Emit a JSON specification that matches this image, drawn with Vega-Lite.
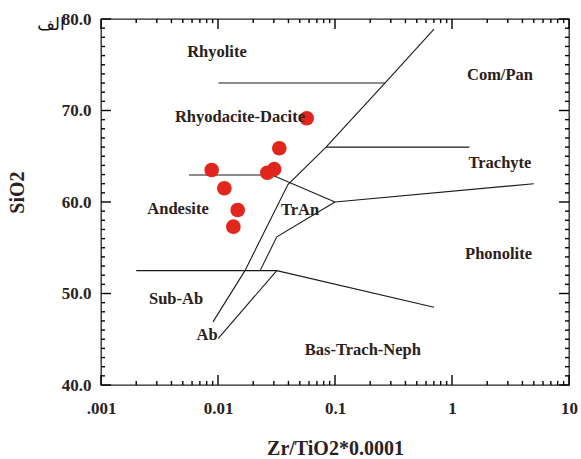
{
  "$schema": "https://vega.github.io/schema/vega-lite/v6.json",
  "width": 468,
  "height": 366,
  "autosize": "none",
  "padding": {"left": 101, "top": 19, "right": 12, "bottom": 74},
  "background": "white",
  "config": {
    "view": {"stroke": "#222", "strokeWidth": 1.3},
    "axis": {"grid": false, "domain": false, "ticks": false, "labelFont": "Liberation Serif", "labelFontWeight": "bold", "labelFontSize": 17, "labelColor": "#2a2222", "titleFont": "Liberation Serif", "titleFontWeight": "bold", "titleFontSize": 20, "titleColor": "#2a2222", "labelOverlap": false, "labelFlush": false}
  },
  "datasets": {
    "lines": [
      {"seg": "a", "o": 1, "x": 0.0101, "y": 73},
      {"seg": "a", "o": 2, "x": 0.267, "y": 73},
      {"seg": "b", "o": 1, "x": 0.00906, "y": 46.9},
      {"seg": "b", "o": 2, "x": 0.017, "y": 52.5},
      {"seg": "b", "o": 3, "x": 0.0396, "y": 61.9},
      {"seg": "b", "o": 4, "x": 0.0838, "y": 66},
      {"seg": "b", "o": 5, "x": 0.267, "y": 73},
      {"seg": "b", "o": 6, "x": 0.702, "y": 78.9},
      {"seg": "c", "o": 1, "x": 0.0838, "y": 66},
      {"seg": "c", "o": 2, "x": 1.41, "y": 66},
      {"seg": "d", "o": 1, "x": 0.00565, "y": 62.95},
      {"seg": "d", "o": 2, "x": 0.029, "y": 62.95},
      {"seg": "d", "o": 3, "x": 0.1, "y": 60},
      {"seg": "e", "o": 1, "x": 0.1, "y": 60},
      {"seg": "e", "o": 2, "x": 5.0, "y": 62},
      {"seg": "f", "o": 1, "x": 0.1, "y": 60},
      {"seg": "f", "o": 2, "x": 0.0318, "y": 56.2},
      {"seg": "f", "o": 3, "x": 0.0229, "y": 52.5},
      {"seg": "g", "o": 1, "x": 0.002, "y": 52.5},
      {"seg": "g", "o": 2, "x": 0.0318, "y": 52.5},
      {"seg": "g", "o": 3, "x": 0.702, "y": 48.5},
      {"seg": "h", "o": 1, "x": 0.0318, "y": 52.5},
      {"seg": "h", "o": 2, "x": 0.01006, "y": 45.1}
    ],
    "dots": [
      {"x": 0.0573, "y": 69.15},
      {"x": 0.0334, "y": 65.87},
      {"x": 0.00883, "y": 63.5},
      {"x": 0.0264, "y": 63.2},
      {"x": 0.0302, "y": 63.6},
      {"x": 0.01133, "y": 61.5},
      {"x": 0.01473, "y": 59.13},
      {"x": 0.01353, "y": 57.3}
    ],
    "labels": [
      {"t": "Rhyolite", "x": 0.0098, "y": 76.4},
      {"t": "Com/Pan", "x": 2.57, "y": 73.9},
      {"t": "Rhyodacite-Dacite", "x": 0.0154, "y": 69.3},
      {"t": "Trachyte", "x": 2.57, "y": 64.26},
      {"t": "Andesite", "x": 0.00455, "y": 59.2},
      {"t": "TrAn", "x": 0.0502, "y": 59.1},
      {"t": "Phonolite", "x": 2.5, "y": 54.3},
      {"t": "Sub-Ab", "x": 0.00438, "y": 49.4},
      {"t": "Ab", "x": 0.00806, "y": 45.5},
      {"t": "Bas-Trach-Neph", "x": 0.173, "y": 43.8}
    ],
    "corner": [
      {"t": "الف", "x": 0.000374, "y": 79.3}
    ],
    "xticks": [
      {"v": 0.001}, {"v": 0.002}, {"v": 0.003}, {"v": 0.004}, {"v": 0.005}, {"v": 0.006}, {"v": 0.007}, {"v": 0.008}, {"v": 0.009},
      {"v": 0.01}, {"v": 0.02}, {"v": 0.03}, {"v": 0.04}, {"v": 0.05}, {"v": 0.06}, {"v": 0.07}, {"v": 0.08}, {"v": 0.09},
      {"v": 0.1}, {"v": 0.2}, {"v": 0.3}, {"v": 0.4}, {"v": 0.5}, {"v": 0.6}, {"v": 0.7}, {"v": 0.8}, {"v": 0.9},
      {"v": 1}, {"v": 2}, {"v": 3}, {"v": 4}, {"v": 5}, {"v": 6}, {"v": 7}, {"v": 8}, {"v": 9}, {"v": 10}
    ],
    "yticks": [
      {"v": 40}, {"v": 41}, {"v": 42}, {"v": 43}, {"v": 44}, {"v": 45}, {"v": 46}, {"v": 47}, {"v": 48}, {"v": 49},
      {"v": 50}, {"v": 51}, {"v": 52}, {"v": 53}, {"v": 54}, {"v": 55}, {"v": 56}, {"v": 57}, {"v": 58}, {"v": 59},
      {"v": 60}, {"v": 61}, {"v": 62}, {"v": 63}, {"v": 64}, {"v": 65}, {"v": 66}, {"v": 67}, {"v": 68}, {"v": 69},
      {"v": 70}, {"v": 71}, {"v": 72}, {"v": 73}, {"v": 74}, {"v": 75}, {"v": 76}, {"v": 77}, {"v": 78}, {"v": 79}, {"v": 80}
    ]
  },
  "resolve": {"axis": {"x": "independent", "y": "independent"}},
  "layer": [
    {
      "data": {"name": "lines"},
      "mark": {"type": "line", "stroke": "#1a1a1a", "strokeWidth": 1.1, "clip": true},
      "encoding": {
        "x": {"field": "x", "type": "quantitative",
          "scale": {"type": "log", "domain": [0.001, 10], "nice": false},
          "axis": {"orient": "bottom", "values": [0.001, 0.01, 0.1, 1, 10],
            "labelExpr": "datum.value==0.001?'.001':datum.value==0.01?'0.01':datum.value==0.1?'0.1':datum.value==1?'1':'10'",
            "labelPadding": 15, "title": "Zr/TiO2*0.0001", "titlePadding": 22}},
        "y": {"field": "y", "type": "quantitative",
          "scale": {"domain": [40, 80], "nice": false, "zero": false},
          "axis": {"orient": "left", "values": [40, 50, 60, 70, 80], "format": ".1f",
            "labelPadding": 10, "title": "SiO2", "titlePadding": 34, "titleY": 173}},
        "detail": {"field": "seg", "type": "nominal"},
        "order": {"field": "o", "type": "quantitative"}
      }
    },
    {
      "data": {"name": "xticks"},
      "transform": [{"filter": "abs(log(datum.v)/LN10 - round(log(datum.v)/LN10)) < 0.001"}],
      "mark": {"type": "rule", "color": "#000", "strokeWidth": 1.4},
      "encoding": {
        "x": {"field": "v", "type": "quantitative", "axis": null},
        "y": {"datum": 40, "type": "quantitative", "axis": null},
        "y2": {"datum": 41.1}
      }
    },
    {
      "data": {"name": "xticks"},
      "transform": [{"filter": "abs(log(datum.v)/LN10 - round(log(datum.v)/LN10)) >= 0.001"}],
      "mark": {"type": "rule", "color": "#000", "strokeWidth": 1.4},
      "encoding": {
        "x": {"field": "v", "type": "quantitative", "axis": null},
        "y": {"datum": 40, "type": "quantitative", "axis": null},
        "y2": {"datum": 40.45}
      }
    },
    {
      "data": {"name": "xticks"},
      "transform": [{"filter": "abs(log(datum.v)/LN10 - round(log(datum.v)/LN10)) < 0.001"}],
      "mark": {"type": "rule", "color": "#000", "strokeWidth": 1.4},
      "encoding": {
        "x": {"field": "v", "type": "quantitative", "axis": null},
        "y": {"datum": 80, "type": "quantitative", "axis": null},
        "y2": {"datum": 78.9}
      }
    },
    {
      "data": {"name": "xticks"},
      "transform": [{"filter": "abs(log(datum.v)/LN10 - round(log(datum.v)/LN10)) >= 0.001"}],
      "mark": {"type": "rule", "color": "#000", "strokeWidth": 1.4},
      "encoding": {
        "x": {"field": "v", "type": "quantitative", "axis": null},
        "y": {"datum": 80, "type": "quantitative", "axis": null},
        "y2": {"datum": 79.55}
      }
    },
    {
      "data": {"name": "yticks"},
      "transform": [{"filter": "datum.v % 10 == 0"}],
      "mark": {"type": "rule", "color": "#000", "strokeWidth": 1.4},
      "encoding": {
        "y": {"field": "v", "type": "quantitative", "axis": null},
        "x": {"datum": 0.001, "type": "quantitative", "axis": null},
        "x2": {"datum": 0.001217}
      }
    },
    {
      "data": {"name": "yticks"},
      "transform": [{"filter": "datum.v % 10 != 0"}],
      "mark": {"type": "rule", "color": "#000", "strokeWidth": 1.4},
      "encoding": {
        "y": {"field": "v", "type": "quantitative", "axis": null},
        "x": {"datum": 0.001, "type": "quantitative", "axis": null},
        "x2": {"datum": 0.001082}
      }
    },
    {
      "data": {"name": "yticks"},
      "transform": [{"filter": "datum.v % 10 == 0"}],
      "mark": {"type": "rule", "color": "#000", "strokeWidth": 1.4},
      "encoding": {
        "y": {"field": "v", "type": "quantitative", "axis": null},
        "x": {"datum": 10, "type": "quantitative", "axis": null},
        "x2": {"datum": 8.22}
      }
    },
    {
      "data": {"name": "yticks"},
      "transform": [{"filter": "datum.v % 10 != 0"}],
      "mark": {"type": "rule", "color": "#000", "strokeWidth": 1.4},
      "encoding": {
        "y": {"field": "v", "type": "quantitative", "axis": null},
        "x": {"datum": 10, "type": "quantitative", "axis": null},
        "x2": {"datum": 9.24}
      }
    },
    {
      "data": {"name": "dots"},
      "mark": {"type": "point", "shape": "circle", "filled": true, "color": "#e3261d", "opacity": 1, "size": 215},
      "encoding": {
        "x": {"field": "x", "type": "quantitative", "axis": null},
        "y": {"field": "y", "type": "quantitative", "axis": null}
      }
    },
    {
      "data": {"name": "labels"},
      "mark": {"type": "text", "font": "Liberation Serif", "fontWeight": "bold", "fontSize": 16.5, "color": "#2a2020", "align": "center", "baseline": "middle"},
      "encoding": {
        "x": {"field": "x", "type": "quantitative", "axis": null},
        "y": {"field": "y", "type": "quantitative", "axis": null},
        "text": {"field": "t", "type": "nominal"}
      }
    },
    {
      "data": {"name": "corner"},
      "mark": {"type": "text", "font": "DejaVu Sans", "fontSize": 17, "color": "#111", "align": "center", "baseline": "middle", "clip": false},
      "encoding": {
        "x": {"field": "x", "type": "quantitative", "axis": null},
        "y": {"field": "y", "type": "quantitative", "axis": null},
        "text": {"field": "t", "type": "nominal"}
      }
    }
  ]
}
